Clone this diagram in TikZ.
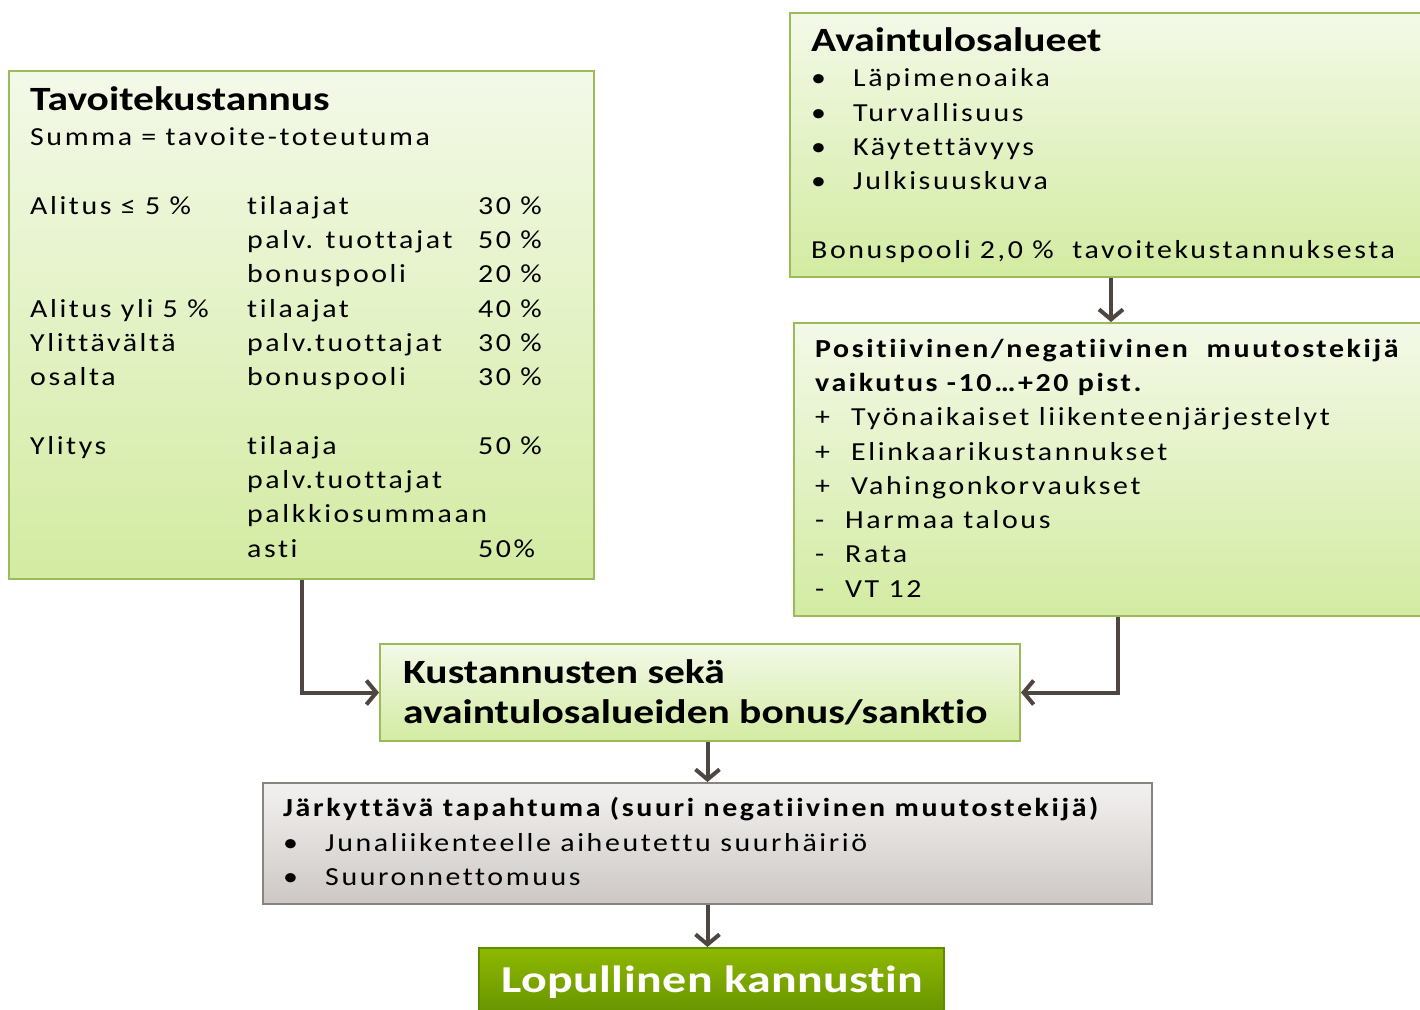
\documentclass[tikz,border=0pt]{standalone}
\usepackage{fontspec}
\setmainfont[FakeStretch=1.15]{Carlito}
\newfontfamily\spc[FakeStretch=1.15,LetterSpace=10,Ligatures={NoCommon}]{Carlito}
\newfontfamily\bspc[FakeStretch=1.15,LetterSpace=10,Ligatures={NoCommon}]{Carlito Bold}
\newfontfamily\bwide[FakeStretch=1.22,Ligatures={NoCommon}]{Carlito Bold}
\newfontfamily\bwider[FakeStretch=1.26,LetterSpace=1.2,Ligatures={NoCommon}]{Carlito Bold}
\usetikzlibrary{arrows.meta}
\definecolor{gborder}{HTML}{9BBB59}
\definecolor{gtop}{HTML}{F3F9E8}
\definecolor{gbot}{HTML}{D3EBA2}
\definecolor{rtop}{HTML}{F3F1F0}
\definecolor{rbot}{HTML}{CDC8C5}
\definecolor{rborder}{HTML}{8A847F}
\definecolor{dtop}{HTML}{8FB800}
\definecolor{dbot}{HTML}{5E8C00}
\definecolor{arrowc}{HTML}{4F4641}
\tikzset{
  gbox/.style={draw=gborder,line width=2pt,top color=gtop,bottom color=gbot,inner sep=0pt,anchor=north west},
  rbox/.style={draw=rborder,line width=2pt,top color=rtop,bottom color=rbot,inner sep=0pt,anchor=north west},
  dbox/.style={draw=dbot,line width=2pt,top color=dtop,bottom color=dbot,inner sep=0pt,anchor=north west},
  txt/.style={anchor=base west,inner sep=0pt,font=\fontsize{26}{30}\selectfont\spc},
  btxt/.style={anchor=base west,inner sep=0pt,font=\fontsize{26}{30}\selectfont\bspc},
  ttl/.style={anchor=base west,inner sep=0pt,font=\fontsize{34}{40}\selectfont\bwide},
  big/.style={anchor=base west,inner sep=0pt,font=\fontsize{34}{40}\selectfont\bwide},
  arr/.style={draw=arrowc,line width=4pt,-{Straight Barb[length=10pt,width=24pt,line width=4pt]}}
}
\begin{document}
\begin{tikzpicture}[x=1pt,y=-1pt]
\useasboundingbox (0,0) rectangle (1420,1009);
% boxes
\node[gbox,minimum width=585pt,minimum height=508pt] (tk) at (8,70) {};
\node[gbox,minimum width=642pt,minimum height=264pt] (at) at (789,12) {};
\node[gbox,minimum width=648pt,minimum height=293pt] (pn) at (793,322) {};
\node[gbox,minimum width=640pt,minimum height=97pt] (ks) at (379,643) {};
\node[rbox,minimum width=889pt,minimum height=121pt] (jt) at (262,782) {};
\node[dbox,minimum width=465pt,minimum height=80pt] (lk) at (478,947) {};
% box 1 text
\node[ttl] (tk0) at (30,110) {Tavoitekustannus};
\node[txt] (tk1) at (30,145) {Summa = tavoite-toteutuma};
\node[txt] (r1a) at (30,214) {Alitus ≤ 5 \%};
\node[txt] (r1b) at (247,214) {tilaajat};
\node[txt] (r1c) at (478,214) {30 \%};
\node[txt] (r2b) at (247,248) {palv. tuottajat};
\node[txt] (r2c) at (478,248) {50 \%};
\node[txt] (r3b) at (247,282) {bonuspooli};
\node[txt] (r3c) at (478,282) {20 \%};
\node[txt] (r4a) at (30,317) {Alitus yli 5 \%};
\node[txt] (r4b) at (247,317) {tilaajat};
\node[txt] (r4c) at (478,317) {40 \%};
\node[txt] (r5a) at (30,351) {Ylittävältä};
\node[txt] (r5b) at (247,351) {palv.tuottajat};
\node[txt] (r5c) at (478,351) {30 \%};
\node[txt] (r6a) at (30,385) {osalta};
\node[txt] (r6b) at (247,385) {bonuspooli};
\node[txt] (r6c) at (478,385) {30 \%};
\node[txt] (r7a) at (30,454) {Ylitys};
\node[txt] (r7b) at (247,454) {tilaaja};
\node[txt] (r7c) at (478,454) {50 \%};
\node[txt] (r8b) at (247,488) {palv.tuottajat};
\node[txt] (r9b) at (247,522) {palkkiosummaan};
\node[txt] (r10b) at (247,557) {asti};
\node[txt] (r10c) at (478,557) {50\%};
% box 2 text
\node[ttl] (at0) at (811,51) {Avaintulosalueet};
\node[txt] (ab1) at (811,86) {•};
\node[txt] (at1) at (853,86) {Läpimenoaika};
\node[txt] (ab2) at (811,121) {•};
\node[txt] (at2) at (853,121) {Turvallisuus};
\node[txt] (ab3) at (811,155) {•};
\node[txt] (at3) at (853,155) {Käytettävyys};
\node[txt] (ab4) at (811,189) {•};
\node[txt] (at4) at (853,189) {Julkisuuskuva};
\node[txt] (at5) at (811,258) {Bonuspooli 2,0 \%\ \ tavoitekustannuksesta};
% box 3 text
\node[btxt] (pn0) at (815,357) {Positiivinen/negatiivinen\ \ muutostekijä};
\node[btxt] (pn1) at (815,391) {vaikutus -10…+20 pist.};
\node[txt] (pb1) at (815,425) {+};
\node[txt] (pt1) at (851,425) {Työnaikaiset liikenteenjärjestelyt};
\node[txt] (pb2) at (815,460) {+};
\node[txt] (pt2) at (851,460) {Elinkaarikustannukset};
\node[txt] (pb3) at (815,494) {+};
\node[txt] (pt3) at (851,494) {Vahingonkorvaukset};
\node[txt] (pb4) at (815,528) {-};
\node[txt] (pt4) at (845,528) {Harmaa talous};
\node[txt] (pb5) at (815,562) {-};
\node[txt] (pt5) at (845,562) {Rata};
\node[txt] (pb6) at (815,597) {-};
\node[txt] (pt6) at (845,597) {VT 12};
% box 4 text
\node[big] (ks0) at (403,683) {Kustannusten sekä};
\node[big] (ks1) at (403,723) {avaintulosalueiden bonus/sanktio};
% box 5 text
\node[btxt] (jt0) at (283,816) {Järkyttävä tapahtuma (suuri negatiivinen muutostekijä)};
\node[txt] (jb1) at (283,851) {•};
\node[txt] (jt1) at (325,851) {Junaliikenteelle aiheutettu suurhäiriö};
\node[txt] (jb2) at (283,885) {•};
\node[txt] (jt2) at (325,885) {Suuronnettomuus};
% box 6 text
\node[anchor=base west,inner sep=0pt,text=white,font=\fontsize{38}{44}\selectfont\bwider] (lk0) at (501,992) {Lopullinen kannustin};
% connectors
\draw[arr] (tk.south) |- (ks.west);
\draw[arr] (pn.south) |- (ks.east);
\draw[arr] (at.south) -- (at.south |- pn.north);
\draw[arr] (ks.south -| jt.north) -- (jt.north);
\draw[arr] (jt.south) -- (jt.south |- lk.north);
\end{tikzpicture}
\end{document}
